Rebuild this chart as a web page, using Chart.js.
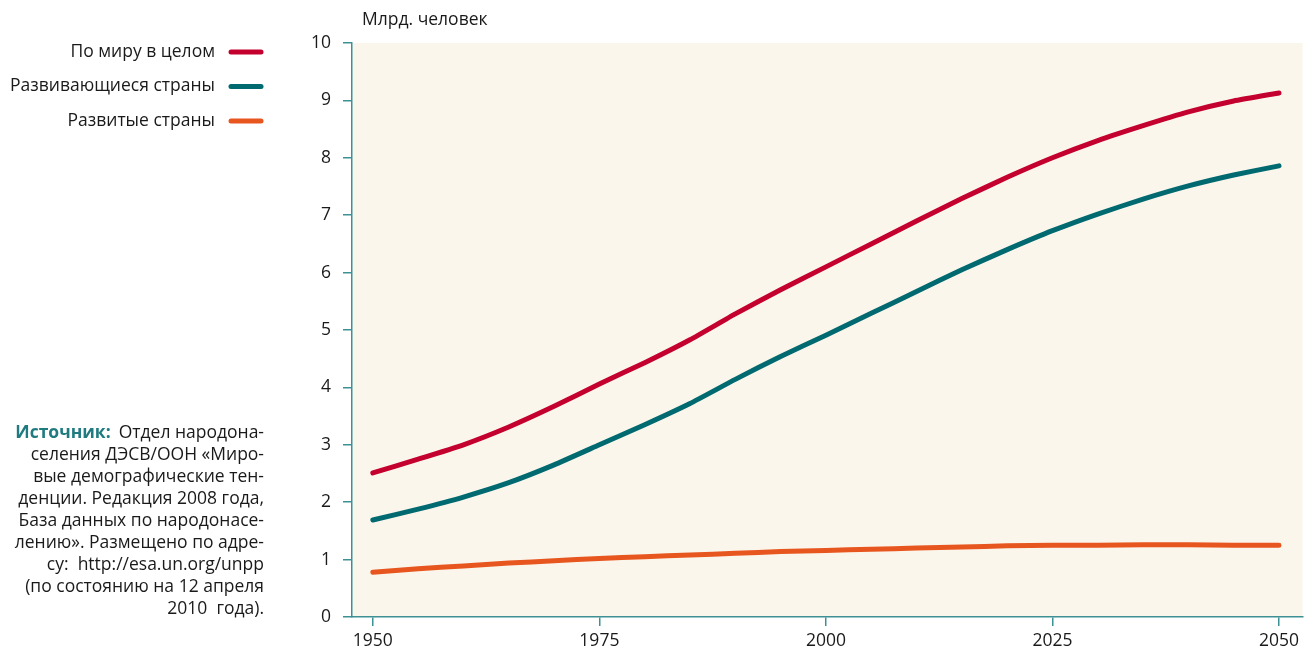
<!DOCTYPE html>
<html>
<head>
<meta charset="utf-8">
<script src="https://cdn.jsdelivr.net/npm/chart.js@4"></script>
<style>
  html, body { margin: 0; padding: 0; background: #fff; }
  #wrap { position: relative; width: 1304px; height: 653px; }
</style>
</head>
<body>
<div id="wrap"><canvas id="popChart" width="1304" height="653"></canvas></div>
<script>
// годы (шаг 5 лет)
const years = [1950, 1955, 1960, 1965, 1970, 1975, 1980, 1985, 1990, 1995, 2000,
               2005, 2010, 2015, 2020, 2025, 2030, 2035, 2040, 2045, 2050];
// млрд. человек
const worldPop = [2.51, 2.75, 3.00, 3.31, 3.67, 4.06, 4.43, 4.83, 5.28, 5.70, 6.10,
                  6.50, 6.90, 7.29, 7.66, 8.00, 8.30, 8.56, 8.80, 8.99, 9.13];
const developingPop = [1.69, 1.88, 2.09, 2.34, 2.65, 3.00, 3.35, 3.72, 4.14, 4.54, 4.91,
                       5.29, 5.67, 6.05, 6.40, 6.73, 7.02, 7.28, 7.51, 7.70, 7.86];
const developedPop = [0.78, 0.84, 0.89, 0.94, 0.98, 1.02, 1.05, 1.08, 1.11, 1.14, 1.16,
                      1.18, 1.20, 1.22, 1.24, 1.25, 1.25, 1.26, 1.26, 1.25, 1.25];
const seriesNames = ['По миру в целом', 'Развивающиеся страны', 'Развитые страны'];
const xTickLabels = [1950, 1975, 2000, 2025, 2050];
const yTickLabels = [0, 1, 2, 3, 4, 5, 6, 7, 8, 9, 10];
const yTitle = 'Млрд. человек';
const sourceLead = 'Источник:';
const sourceLines = [
  'Отдел народона-',
  'селения ДЭСВ/ООН «Миро-',
  'вые демографические тен-',
  'денции. Редакция 2008 года,',
  'База данных по народонасе-',
  'лению». Размещено по адре-',
  'су:  http://esa.un.org/unpp',
  '(по состоянию на 12 апреля',
  '2010  года).'
];

const FONT = '"Open Sans", "Noto Sans", sans-serif';
const FS = 17.5;
const AXIS = '#3d9094';
const TEXT = '#1a1a1a';

// фон области графика, легенда и источник
const decorPlugin = {
  id: 'decor',
  beforeDraw(chart) {
    const { ctx, chartArea } = chart;
    ctx.save();
    ctx.fillStyle = '#fbf6ec';
    ctx.fillRect(chartArea.left, chartArea.top, chartArea.right - chartArea.left, chartArea.bottom - chartArea.top);
    ctx.restore();
  },
  afterDraw(chart) {
    const { ctx } = chart;
    ctx.save();
    ctx.font = FS + 'px ' + FONT;
    ctx.fillStyle = TEXT;
    ctx.textBaseline = 'middle';

    // подпись оси Y
    ctx.textAlign = 'left';
    ctx.fillText(yTitle, 362, 20);

    // легенда
    chart.data.datasets.forEach((ds, i) => {
      const y = 52 + i * 34.5;
      ctx.textAlign = 'right';
      ctx.fillStyle = TEXT;
      ctx.fillText(ds.label, 215, y);
      ctx.strokeStyle = ds.borderColor;
      ctx.lineWidth = 5;
      ctx.lineCap = 'round';
      ctx.beginPath();
      ctx.moveTo(231, y);
      ctx.lineTo(261, y);
      ctx.stroke();
    });

    // источник
    ctx.textAlign = 'right';
    const rightX = 264;
    sourceLines.forEach((line, i) => {
      const y = 433 + i * 22;
      ctx.fillStyle = TEXT;
      ctx.font = FS + 'px ' + FONT;
      ctx.fillText(line, rightX, y);
      if (i === 0) {
        const w = ctx.measureText(line).width;
        ctx.font = 'bold ' + FS + 'px ' + FONT;
        ctx.fillStyle = '#1f7b80';
        ctx.fillText(sourceLead, rightX - w - 8, y);
      }
    });
    ctx.restore();
  }
};

const toPoints = arr => arr.map((v, i) => ({ x: years[i], y: v }));

new Chart(document.getElementById('popChart'), {
  type: 'line',
  data: {
    datasets: [
      { label: seriesNames[0], data: toPoints(worldPop), borderColor: '#c4002f' },
      { label: seriesNames[1], data: toPoints(developingPop), borderColor: '#006a70' },
      { label: seriesNames[2], data: toPoints(developedPop), borderColor: '#e8561f' }
    ].map(ds => Object.assign(ds, {
      borderWidth: 5,
      borderCapStyle: 'round',
      borderJoinStyle: 'round',
      pointRadius: 0,
      tension: 0.15,
      fill: false
    }))
  },
  options: {
    responsive: false,
    animation: false,
    layout: { padding: { top: 43, left: 0, right: 0, bottom: 0 } },
    plugins: { legend: { display: false }, tooltip: { enabled: false } },
    scales: {
      x: {
        type: 'linear',
        min: 1947.7,
        max: 2052.6,
        afterBuildTicks: s => { s.ticks = xTickLabels.map(v => ({ value: v })); },
        afterFit: s => { s.height = 36; },
        grid: { drawOnChartArea: false, color: AXIS, tickLength: 9, lineWidth: 1.5 },
        border: { color: AXIS, width: 1.5 },
        ticks: {
          color: TEXT, font: { family: FONT, size: FS }, padding: 5, maxRotation: 0,
          callback: v => String(v)
        }
      },
      y: {
        min: 0,
        max: 10,
        afterBuildTicks: s => { s.ticks = yTickLabels.map(v => ({ value: v })); },
        afterFit: s => { s.width = 352; },
        grid: { drawOnChartArea: false, color: AXIS, tickLength: 9, lineWidth: 1.5 },
        border: { color: AXIS, width: 1.5 },
        ticks: { color: TEXT, font: { family: FONT, size: FS }, padding: 12 }
      }
    }
  },
  plugins: [decorPlugin]
});
</script>
</body>
</html>
